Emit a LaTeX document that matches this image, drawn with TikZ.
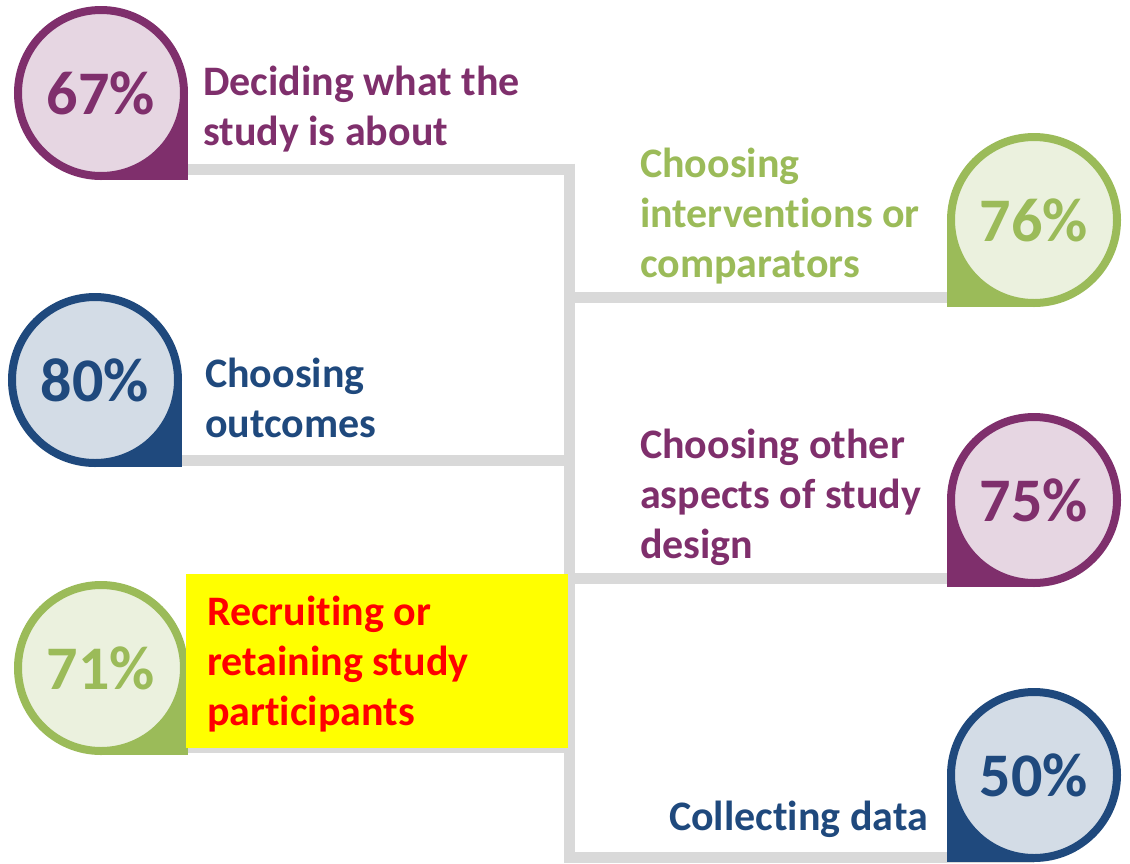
\documentclass[tikz,border=0pt]{standalone}
\usepackage{fontspec}
\setmainfont{Carlito}[Ligatures=NoCommon]
\definecolor{purp}{RGB}{127,47,108}
\definecolor{purpl}{RGB}{230,214,226}
\definecolor{navy}{RGB}{31,73,125}
\definecolor{navyl}{RGB}{211,220,230}
\definecolor{olive}{RGB}{155,187,89}
\definecolor{olivel}{RGB}{235,241,222}
\definecolor{linegray}{RGB}{217,217,217}
\definecolor{hlyellow}{RGB}{255,255,0}
\begin{document}
\begin{tikzpicture}[x=1pt,y=-1pt,
ring/.style 2 args={circle,draw=#1,fill=#2,text=#1,line width=8pt,minimum size=166pt,inner sep=0pt,
  font=\fontsize{62}{70}\selectfont\bfseries},
lbl/.style={anchor=base west,align=left,inner sep=0pt,text=#1,font=\fontsize{42}{50}\selectfont\bfseries},
branch/.style={draw=linegray,line width=11pt},
hlbox/.style={rectangle,fill=hlyellow,minimum width=382pt,minimum height=174pt,inner sep=0pt}]
\useasboundingbox (0,0) rectangle (1130,863);
% trunk and branches
\coordinate (top) at (569,163.5);
\coordinate (bot) at (569,863);
\coordinate (j67) at (569,169);
\coordinate (j76) at (569,297);
\coordinate (j80) at (569,460);
\coordinate (j75) at (569,578);
\coordinate (j71) at (569,747);
\coordinate (j50) at (569,857.5);
\draw[branch] (top) -- (bot);
\draw[branch] (j67) -- (101,169);
\draw[branch] (j80) -- (95,460);
\draw[branch] (j71) -- (102,747);
\draw[branch] (j76) -- (1034,297);
\draw[branch] (j75) -- (1034,578);
\draw[branch] (j50) -- (1034,857.5);
% left side
\fill[purp] (101,93) rectangle ++(87,87);
\node[ring={purp}{purpl}] (p67) at (101,93) {67\%};
\fill[navy] (95,380) rectangle ++(87,87);
\node[ring={navy}{navyl}] (p80) at (95,380) {80\%};
\fill[olive] (101,668) rectangle ++(87,87);
\node[ring={olive}{olivel}] (p71) at (101,668) {71\%};
% right side
\fill[olive] (1034,220) rectangle ++(-87,87);
\node[ring={olive}{olivel}] (p76) at (1034,220) {76\%};
\fill[purp] (1034,500) rectangle ++(-87,87);
\node[ring={purp}{purpl}] (p75) at (1034,500) {75\%};
\fill[navy] (1034,775) rectangle ++(-87,87);
\node[ring={navy}{navyl}] (p50) at (1034,775) {50\%};
% labels (anchored on the last line)
\node[hlbox] (hl) at (377,661) {};
\node[lbl=purp] (t67) at (203,145) {Deciding what the\\study is about};
\node[lbl=navy] (t80) at (205,437) {Choosing\\outcomes};
\node[lbl=red] (t71) at (207,725) {Recruiting or\\retaining study\\participants};
\node[lbl=olive] (t76) at (640,277) {Choosing\\interventions or\\comparators};
\node[lbl=purp] (t75) at (640,558) {Choosing other\\aspects of study\\design};
\node[lbl=navy,anchor=base east] (t50) at (928,830) {Collecting data};
\end{tikzpicture}
\end{document}
